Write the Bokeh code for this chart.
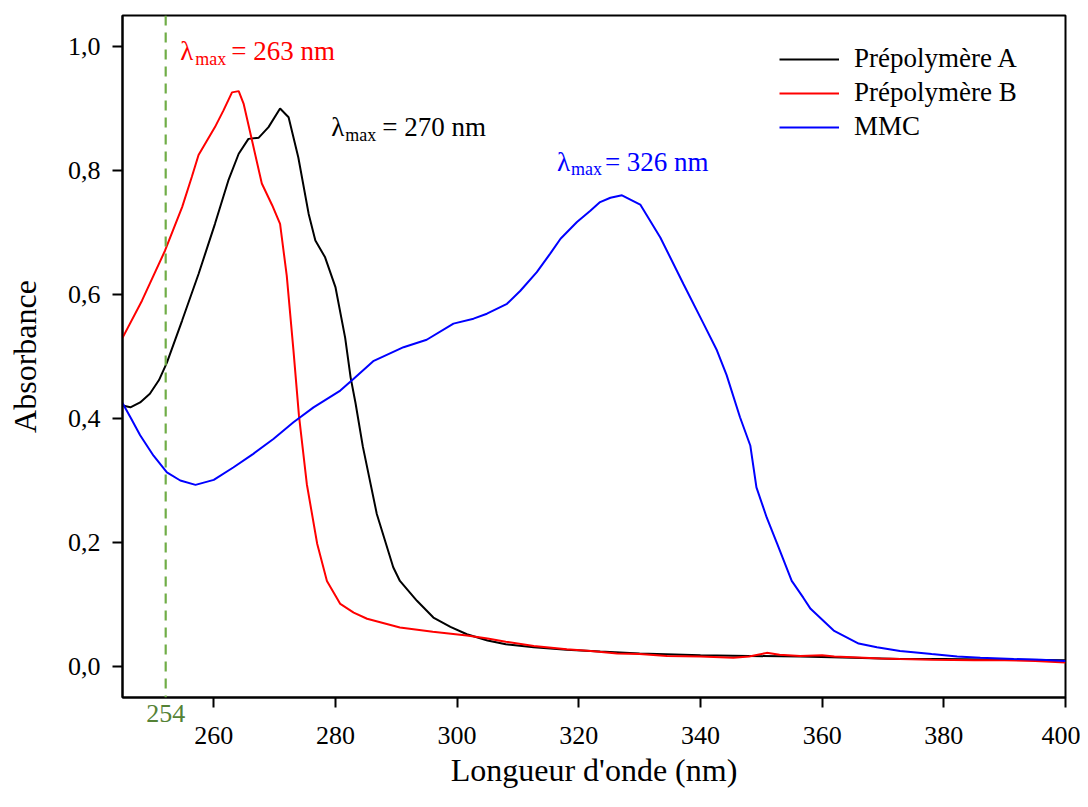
from bokeh.plotting import figure
from bokeh.models import (Range1d, FixedTicker, CustomJSTickFormatter, Legend, LegendItem,
                          Label, Span, LinearAxis)
from bokeh.embed import file_html
from bokeh.resources import INLINE

# ---------------- data ----------------
nm_A = [245.0, 246.3, 247.9, 249.5, 251.0, 252.3, 254.8, 257.5, 260.2, 262.4, 264.1, 265.7,
        267.4, 269.0, 270.9, 272.3, 273.9, 275.6, 276.7, 278.3, 280.0, 281.6, 282.5, 283.3,
        284.5, 286.8, 289.5, 290.6, 293.4, 296.1, 298.9, 301.6, 305.0, 308.0, 312.6, 318.0,
        323.5, 330.0, 340.0, 348.0, 356.4, 365.0, 372.8, 380.0, 390.0, 400.0]
abs_A = [0.421, 0.418, 0.426, 0.440, 0.462, 0.490, 0.558, 0.633, 0.714, 0.784, 0.827, 0.851,
         0.853, 0.870, 0.900, 0.886, 0.821, 0.730, 0.687, 0.660, 0.612, 0.530, 0.466, 0.425,
         0.355, 0.246, 0.160, 0.138, 0.106, 0.079, 0.064, 0.052, 0.042, 0.036, 0.031, 0.027,
         0.024, 0.021, 0.018, 0.017, 0.016, 0.014, 0.012, 0.012, 0.011, 0.010]

nm_B = [245.0, 248.2, 252.0, 254.8, 256.4, 257.5, 260.2, 261.6, 263.0, 264.1, 264.9, 266.3,
        267.9, 269.6, 270.9, 272.0, 273.1, 274.0, 275.3, 277.0, 278.6, 280.8, 283.0, 285.2,
        290.6, 296.0, 301.6, 305.0, 308.0, 312.6, 318.0, 322.0, 326.3, 330.0, 334.5, 340.0,
        345.4, 348.0, 350.9, 353.0, 356.4, 360.0, 362.0, 365.0, 369.6, 372.8, 378.0, 385.0,
        390.0, 395.0, 400.0]
abs_B = [0.530, 0.590, 0.671, 0.741, 0.790, 0.825, 0.870, 0.897, 0.926, 0.928, 0.908, 0.848,
         0.779, 0.744, 0.714, 0.630, 0.510, 0.405, 0.294, 0.198, 0.138, 0.101, 0.087, 0.077,
         0.063, 0.056, 0.050, 0.045, 0.040, 0.033, 0.028, 0.025, 0.021, 0.020, 0.017, 0.016,
         0.014, 0.016, 0.022, 0.019, 0.017, 0.018, 0.016, 0.015, 0.013, 0.012, 0.011, 0.010,
         0.010, 0.009, 0.0065]

nm_M = [245.0, 246.3, 247.9, 250.1, 252.3, 254.5, 257.0, 260.0, 263.2, 266.5, 269.8, 273.1,
        276.4, 280.8, 283.0, 286.3, 291.2, 295.0, 299.4, 302.7, 304.9, 308.2, 310.4, 313.1,
        315.3, 317.0, 319.7, 321.9, 323.5, 325.2, 327.1, 330.1, 333.4, 337.2, 340.5, 342.7,
        344.3, 346.5, 348.2, 349.2, 350.9, 352.6, 355.0, 356.9, 358.1, 361.9, 366.0, 369.0,
        372.8, 375.0, 378.0, 382.2, 386.0, 391.5, 396.0, 400.0]
abs_M = [0.425, 0.402, 0.373, 0.340, 0.313, 0.300, 0.293, 0.301, 0.321, 0.343, 0.367, 0.394,
         0.418, 0.445, 0.464, 0.493, 0.515, 0.527, 0.553, 0.561, 0.569, 0.585, 0.606, 0.636,
         0.666, 0.690, 0.717, 0.735, 0.749, 0.756, 0.760, 0.745, 0.692, 0.617, 0.553, 0.510,
         0.470, 0.402, 0.356, 0.289, 0.240, 0.198, 0.138, 0.111, 0.093, 0.058, 0.037, 0.031,
         0.025, 0.023, 0.020, 0.016, 0.014, 0.012, 0.011, 0.009]

series_names = ["Prépolymère A", "Prépolymère B", "MMC"]
x_ticks = [260, 280, 300, 320, 340, 360, 380, 400]
y_ticks = [0.0, 0.2, 0.4, 0.6, 0.8, 1.0]

marker_nm = 252.1          # position of the dashed reference line
marker_label = "254"

peak_labels = [
    # (anchor nm, anchor absorbance, value text, colour, sub offset, value offset, lift, sub drop)
    (254.5, 0.979, "= 263 nm", "#ff0000", 15, 51, 9, 8),
    (279.3, 0.857, "= 270 nm", "#000000", 14, 51, 8, 8),
    (316.4, 0.796, "= 326 nm", "#0000ff", 14, 48, 11, 7),
]

FONT = "Liberation Serif"

# ---------------- figure ----------------
p = figure(width=1080, height=798, output_backend="svg", toolbar_location=None,
           x_range=Range1d(245, 400), y_range=Range1d(-0.05, 1.05),
           min_border_left=122, min_border_right=15, min_border_top=15, min_border_bottom=101)
p.grid.visible = False
p.outline_line_color = "black"
p.outline_line_width = 2
p.background_fill_color = "white"
p.border_fill_color = "white"

r_A = p.line(nm_A, abs_A, line_color="black", line_width=2)
r_B = p.line(nm_B, abs_B, line_color="#ff0000", line_width=2)
r_M = p.line(nm_M, abs_M, line_color="#0000ff", line_width=2)

p.add_layout(Span(location=marker_nm, dimension="height", line_color="#70AD47",
                  line_width=2.2, line_dash="10 7"))

yax = p.yaxis[0]
yax.axis_line_width = 2
yax.major_tick_line_width = 2
yax.major_tick_out = 10
yax.major_tick_in = 0
yax.minor_tick_line_color = None
yax.major_label_text_font = FONT
yax.major_label_text_font_size = "26px"
yax.major_label_text_color = "black"
yax.axis_label_text_font = FONT
yax.axis_label_text_font_size = "32px"
yax.axis_label_text_font_style = "normal"
yax.axis_label_text_color = "black"
yax.ticker = FixedTicker(ticks=y_ticks)
yax.formatter = CustomJSTickFormatter(code="return tick.toFixed(1).replace('.', ',');")
yax.axis_label = "Absorbance"
yax.major_label_standoff = 12
yax.axis_label_standoff = 22

# 1) axis right under the frame: only the tick marks
tick_axis = LinearAxis(ticker=FixedTicker(ticks=x_ticks),
                       formatter=CustomJSTickFormatter(code="return '';"),
                       axis_line_width=2, major_tick_line_width=2, major_tick_out=10,
                       major_tick_in=0, minor_tick_line_color=None, major_label_standoff=0,
                       major_label_text_font_size="1px")
# 2) axis carrying the green "254" label of the reference line
marker_axis = LinearAxis(ticker=FixedTicker(ticks=[marker_nm]),
                         formatter=CustomJSTickFormatter(args=dict(lbl=marker_label),
                                                         code="return lbl;"),
                         axis_line_color=None, major_tick_line_color=None,
                         minor_tick_line_color=None, major_tick_out=0, major_tick_in=0,
                         major_label_standoff=-3, major_label_text_font=FONT,
                         major_label_text_font_size="26px",
                         major_label_text_color="#548235")
# 3) axis with the numeric labels and the title
main_x = LinearAxis(ticker=FixedTicker(ticks=x_ticks), axis_line_color=None,
                    major_tick_line_color=None, minor_tick_line_color=None,
                    major_tick_out=0, major_tick_in=0, major_label_standoff=2,
                    major_label_text_font=FONT, major_label_text_font_size="26px",
                    major_label_text_color="black",
                    axis_label="Longueur d'onde (nm)", axis_label_standoff=5,
                    axis_label_text_font=FONT, axis_label_text_font_size="32px",
                    axis_label_text_font_style="normal", axis_label_text_color="black")
p.below = [tick_axis, marker_axis, main_x]

for nm, a, txt, col, sub_off, val_off, lift, drop in peak_labels:
    p.add_layout(Label(x=nm, y=a, y_offset=lift, text="λ", text_font=FONT,
                       text_font_size="27px", text_color=col, text_baseline="alphabetic"))
    p.add_layout(Label(x=nm, y=a, x_offset=sub_off, y_offset=lift - drop, text="max",
                       text_font=FONT, text_font_size="18px", text_color=col,
                       text_baseline="alphabetic"))
    p.add_layout(Label(x=nm, y=a, x_offset=val_off, y_offset=lift, text=txt, text_font=FONT,
                       text_font_size="27px", text_color=col, text_baseline="alphabetic"))

legend = Legend(items=[LegendItem(label=series_names[0], renderers=[r_A]),
                       LegendItem(label=series_names[1], renderers=[r_B]),
                       LegendItem(label=series_names[2], renderers=[r_M])],
                location=(657, 555), border_line_color=None, background_fill_alpha=0,
                label_text_font=FONT, label_text_font_size="27px", label_text_color="black",
                glyph_width=60, glyph_height=30, label_height=30, spacing=3, padding=5,
                label_standoff=15, margin=0)
p.add_layout(legend)

open("out.html", "w").write(file_html(p, INLINE))
